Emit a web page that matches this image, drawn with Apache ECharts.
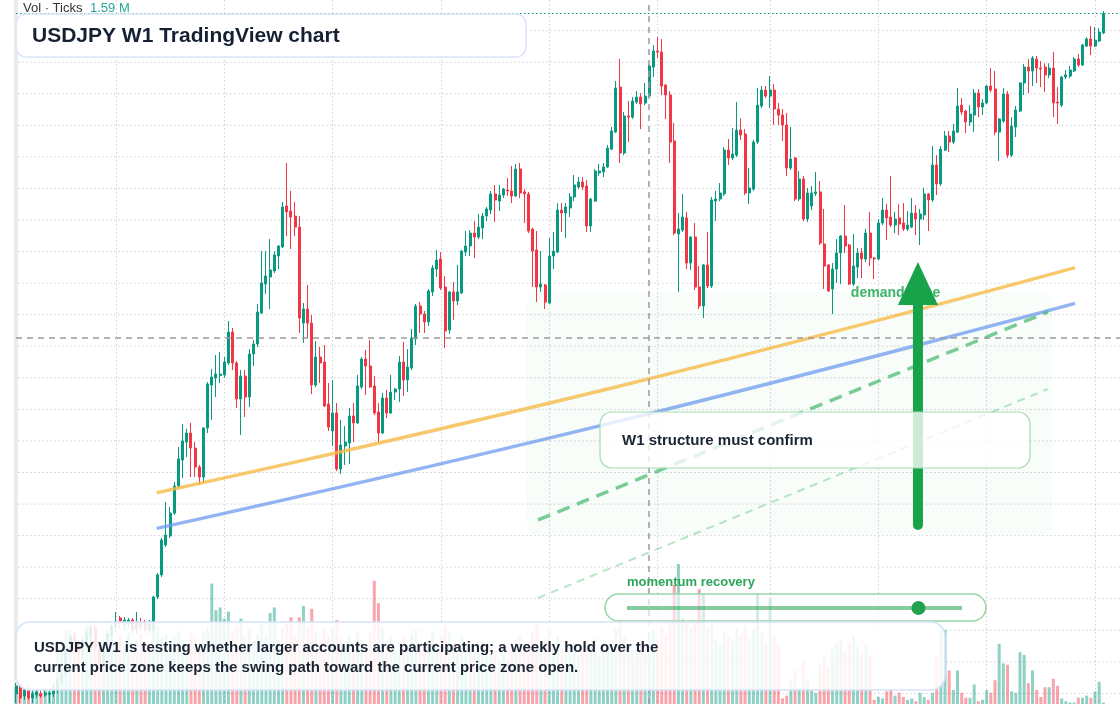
<!DOCTYPE html>
<html>
<head>
<meta charset="utf-8">
<title>USDJPY W1</title>
<script src="https://cdn.jsdelivr.net/npm/echarts@6/dist/echarts.min.js"></script>
<style>
  html, body { margin: 0; padding: 0; background: #fff; }
  #chart { width: 1120px; height: 704px; }
</style>
</head>
<body>
<div id="chart"></div>
<script>
// weekly bars: [open, close, low, high]
var candles = [
  [115.97,116.47,115.40,116.66],[116.35,115.71,115.40,116.54],[115.84,116.22,115.59,116.35],[116.16,115.71,115.59,116.28],
  [115.71,115.97,115.40,116.22],[115.90,116.09,115.71,116.22],[115.97,115.84,115.71,116.22],[115.90,116.03,115.78,116.22],
  [115.93,116.03,115.40,116.22],[115.97,116.22,115.78,116.66],[116.22,116.85,116.03,117.04],[116.79,117.23,116.60,117.49],
  [117.30,118.75,117.11,119.07],[118.88,119.64,118.63,119.96],[119.64,119.07,118.75,119.89],[119.13,118.63,118.37,119.39],
  [118.63,119.39,118.25,119.64],[119.20,119.83,118.94,120.08],[119.58,120.21,119.32,120.53],[120.21,118.88,118.63,120.40],
  [118.88,117.87,117.61,119.07],[117.99,119.26,117.74,119.45],[119.26,119.77,119.01,120.02],[119.64,120.27,119.39,120.53],
  [120.21,120.53,119.89,121.16],[120.78,120.53,120.15,120.91],[120.34,120.65,120.02,120.84],[120.40,120.65,120.15,120.78],
  [120.65,120.02,119.77,120.78],[120.02,120.53,119.77,121.16],[120.53,120.21,119.96,120.78],[120.46,120.02,119.83,120.65],
  [120.02,120.40,119.83,120.65],[120.02,122.11,119.96,122.17],[122.11,123.51,121.98,123.63],[123.51,125.72,123.38,125.85],
  [125.41,126.04,125.28,128.13],[125.98,127.43,125.85,127.81],[127.43,129.14,127.31,129.40],[129.14,130.86,129.02,131.62],
  [130.79,132.00,129.65,133.07],[131.93,132.50,130.98,132.76],[132.50,131.55,129.71,133.14],[131.55,130.35,129.71,131.93],
  [130.35,129.71,129.21,130.48],[129.71,132.82,129.33,132.88],[132.82,135.61,132.50,135.73],[135.54,136.05,133.33,136.56],
  [135.99,136.24,134.78,137.44],[136.14,136.24,135.67,137.63],[136.18,137.00,135.99,137.32],[136.94,138.90,136.81,139.60],
  [138.90,136.94,136.49,139.16],[136.94,134.66,134.09,137.06],[134.66,136.11,132.38,136.49],[136.11,134.78,133.52,136.49],
  [134.78,137.51,134.15,137.82],[137.51,138.14,136.75,138.40],[138.14,140.17,137.95,140.68],[140.11,142.01,140.04,144.03],
  [141.94,142.45,141.31,144.03],[142.39,142.83,140.36,144.79],[142.77,143.78,142.64,144.03],[143.72,144.35,142.89,144.41],
  [144.29,146.82,144.22,147.14],[146.89,146.51,144.98,149.61],[146.57,146.19,144.16,147.84],[146.25,145.55,144.98,147.14],
  [145.55,139.79,138.84,146.25],[139.47,140.36,138.21,140.74],[140.36,139.47,138.52,141.88],[139.47,135.54,134.97,139.98],
  [135.54,137.32,135.42,138.33],[137.32,136.94,135.67,137.95],[137.00,134.21,134.15,138.08],[134.34,132.88,132.63,135.67],
  [132.63,133.77,131.68,135.86],[133.77,130.22,130.09,134.40],[130.22,131.74,129.90,133.33],[131.68,131.93,130.48,132.95],
  [131.87,133.58,130.54,134.09],[133.58,133.14,131.93,134.40],[133.14,135.48,133.07,136.18],[135.42,137.19,135.29,137.32],
  [137.19,136.75,134.91,137.76],[136.75,135.42,135.35,138.40],[135.48,133.77,133.64,136.11],[133.83,132.50,131.87,134.40],
  [132.50,134.72,132.44,135.04],[134.72,133.77,133.45,135.23],[133.77,135.10,133.71,136.18],[135.10,135.29,134.59,135.35],
  [135.29,137.00,134.47,137.38],[137.00,135.86,134.85,138.27],[135.86,136.68,135.10,137.82],[136.62,138.52,136.49,139.09],
  [138.46,140.55,138.08,140.68],[140.55,140.04,138.84,140.80],[140.04,139.54,138.84,140.23],[139.54,141.50,139.28,141.63],
  [141.44,142.96,141.18,143.15],[142.89,143.46,142.39,144.10],[143.53,141.69,141.56,143.97],[141.75,138.97,137.89,142.45],
  [139.03,141.44,138.78,141.50],[141.44,140.87,139.66,142.07],[140.87,141.44,140.61,143.15],[141.37,144.03,141.31,144.10],
  [143.97,144.35,143.72,145.30],[144.35,145.17,143.72,145.36],[145.17,144.92,143.59,145.93],[144.92,145.55,144.79,146.38],
  [145.49,146.25,144.79,146.44],[146.25,146.70,145.93,146.82],[146.63,147.65,146.38,147.84],[147.65,147.27,145.87,148.22],
  [147.20,147.58,146.57,148.22],[147.58,147.96,147.39,148.03],[147.90,147.84,147.52,148.66],[147.84,147.52,147.07,149.42],
  [147.52,149.23,147.46,149.55],[149.23,147.71,147.39,149.61],[147.78,147.65,145.81,147.96],[147.65,145.30,145.17,147.78],
  [145.43,144.03,141.75,145.49],[144.10,141.75,140.80,145.30],[141.75,141.94,141.44,144.03],[141.88,140.80,140.36,141.94],
  [140.74,143.72,140.68,144.86],[143.72,144.03,142.89,145.24],[143.97,146.63,143.91,147.07],[146.63,146.44,145.24,147.07],
  [146.44,146.82,144.86,147.07],[146.76,147.46,146.19,147.71],[147.46,148.22,147.20,148.85],[148.09,148.41,147.96,148.72],
  [148.41,148.09,147.90,148.72],[148.15,145.62,145.24,148.53],[145.62,147.33,145.24,147.39],[147.20,149.10,147.14,149.23],
  [148.98,149.10,148.79,149.55],[149.04,149.36,148.72,149.61],[149.36,150.56,149.29,150.75],[150.49,151.64,150.43,151.89],
  [151.57,154.36,151.51,154.81],[154.42,150.24,149.61,156.20],[150.24,152.59,150.11,152.84],[152.59,152.52,150.94,153.54],
  [152.52,153.54,152.40,153.79],[153.47,153.79,153.35,154.17],[153.79,153.35,151.76,154.04],[153.41,153.85,153.28,154.68],
  [153.85,155.76,153.79,155.88],[155.69,156.71,155.06,157.09],[156.71,156.64,156.26,157.59],[156.64,154.49,153.92,157.47],
  [154.55,153.92,152.40,154.61],[153.92,150.94,149.61,154.17],[151.01,145.17,145.04,152.15],[145.11,145.43,141.44,146.44],
  [145.36,146.19,145.24,147.65],[146.13,143.27,142.89,146.51],[143.27,144.92,142.83,144.98],[144.92,141.75,141.56,145.81],
  [141.75,140.55,140.36,143.08],[140.55,143.15,139.79,143.21],[143.15,141.82,141.69,145.24],[141.82,147.27,141.69,147.46],
  [147.20,147.33,145.93,147.84],[147.33,147.71,147.20,148.34],[147.65,150.43,147.52,150.62],[150.43,149.93,149.48,151.13],
  [149.93,150.18,149.80,151.83],[150.11,151.70,149.99,153.47],[151.70,151.38,151.07,152.44],[151.45,147.71,147.58,151.76],
  [147.71,148.03,147.01,149.29],[147.96,150.94,147.84,151.07],[150.94,153.28,150.81,154.36],[153.22,154.23,153.09,154.49],
  [154.23,153.85,153.73,154.49],[153.85,154.23,153.09,155.12],[154.23,153.03,152.02,154.61],[153.03,152.65,152.02,153.41],
  [152.65,152.02,151.01,153.03],[152.02,149.29,148.79,152.78],[149.29,149.86,149.17,151.89],[149.93,147.33,147.20,149.99],
  [147.33,148.60,147.20,149.10],[148.60,146.06,145.93,148.79],[146.06,147.71,145.87,148.03],[146.89,147.71,146.63,148.15],
  [147.68,147.78,147.52,149.04],[147.78,144.54,144.41,148.47],[144.48,143.08,141.63,146.70],[143.15,141.50,141.44,143.21],
  [141.63,142.89,140.04,143.27],[142.89,143.91,142.01,144.79],[143.91,144.98,141.94,145.04],[144.98,144.35,143.91,146.95],
  [144.41,141.94,141.88,144.48],[141.94,143.08,141.82,145.11],[143.02,143.91,142.32,144.22],[143.91,143.53,142.32,144.22],
  [143.53,145.17,143.34,145.43],[145.17,143.59,143.08,146.51],[143.59,143.53,142.26,143.66],[143.53,145.81,143.46,146.06],
  [145.81,146.63,145.68,147.39],[146.63,146.13,144.73,147.01],[146.19,145.68,145.55,148.79],[145.68,146.06,145.17,146.51],
  [146.13,145.74,145.04,147.01],[145.81,145.43,145.30,147.07],[145.43,145.68,145.30,146.57],[145.55,146.44,145.49,147.39],
  [146.44,146.06,145.04,146.95],[146.06,146.38,144.41,146.70],[146.32,147.65,146.00,148.03],[147.65,147.27,145.30,147.71],
  [147.27,149.48,147.14,150.69],[149.48,148.28,147.58,150.11],[148.28,150.49,148.15,150.69],[150.43,151.32,150.37,151.64],
  [151.32,150.94,150.31,151.64],[150.94,151.64,150.81,152.08],[151.57,153.22,151.51,154.36],[153.28,152.84,152.65,153.73],
  [152.90,152.21,151.51,152.97],[152.21,152.71,151.95,153.28],[152.65,154.04,151.57,154.30],[154.04,153.16,152.52,154.30],
  [153.16,153.41,152.65,153.66],[153.41,154.49,153.35,154.55],[154.49,154.23,154.11,155.63],[154.30,151.57,151.38,155.44],
  [151.57,152.40,149.74,152.46],[152.27,153.98,152.15,154.36],[153.98,150.11,149.93,154.17],[150.11,151.95,149.99,152.52],
  [151.89,152.97,151.26,153.22],[152.90,154.68,152.84,154.74],[154.68,155.69,153.92,155.88],[155.69,155.44,154.04,156.20],
  [155.44,156.26,154.49,156.39],[156.20,155.63,154.68,156.39],[155.63,155.57,154.42,156.07],[155.69,155.19,154.11,155.93],
  [155.19,155.63,154.99,155.93],[155.63,153.41,152.52,156.64],[153.47,153.41,152.08,154.42],[153.28,155.06,153.16,155.12],
  [155.06,155.19,154.93,155.50],[155.12,155.50,154.99,155.76],[155.44,156.20,155.37,156.33],[156.20,155.82,155.69,156.52],
  [155.82,157.09,155.76,157.15],[157.02,157.47,156.96,157.59],[157.47,157.02,156.45,158.29],[157.02,157.40,156.96,158.23],
  [157.34,157.91,157.28,158.16],[157.85,159.09,157.78,159.24]
];

// tick volume, millions
var volumes = [
  1.2,1.5,1.1,1.3,0.9,1.0,0.8,1.1,0.9,1.4,
  4.3,4.6,5.2,4.8,4.1,4.4,3.9,5.6,5.0,4.2,3.8,4.5,4.0,4.7,
  4.5,4.9,4.2,5.1,3.8,4.6,5.0,4.4,4.1,5.3,5.6,4.8,5.0,4.4,4.9,5.2,4.6,4.3,5.1,4.7,4.0,5.2,5.5,
  8.6,6.7,6.9,6.1,6.6,5.2,5.6,6.1,4.8,5.3,4.5,5.0,5.7,
  4.9,6.5,6.9,4.6,5.4,5.8,6.2,4.9,6.2,7.0,
  5.4,6.8,5.1,4.4,5.3,4.8,5.5,6.0,4.7,4.1,
  4.9,4.3,5.2,4.6,4.0,5.1,8.8,7.2,5.4,4.5,
  4.9,3.8,4.4,4.8,4.2,5.0,5.3,4.1,3.9,4.6,
  5.2,4.4,4.8,5.6,5.1,4.3,4.0,4.9,3.7,4.2,
  3.6,4.0,4.5,3.5,4.1,3.8,3.3,3.6,3.2,4.0,
  4.6,4.9,3.7,4.4,5.2,5.8,4.3,4.7,5.3,4.0,
  4.8,3.9,3.6,4.1,4.4,3.5,3.8,4.6,4.2,4.7,
  3.4,3.7,4.2,4.6,5.4,6.0,4.8,4.1,4.3,3.9,
  4.5,4.2,4.9,5.3,4.6,5.6,5.0,5.9,8.5,10.0,
  6.1,5.8,5.4,5.9,8.2,7.9,5.5,5.7,4.6,4.3,
  5.2,4.8,4.5,5.4,4.9,5.6,4.7,5.3,7.9,5.1,
  4.4,7.6,4.9,4.2,0.4,0.6,1.7,2.4,1.2,3.0,
  1.8,1.0,0.8,2.8,3.3,2.6,3.9,4.3,4.6,3.7,
  4.4,4.8,4.1,3.6,4.2,3.4,0.3,0.5,0.4,0.9,
  1.0,0.6,0.8,0.5,0.3,0.4,0.2,0.8,0.5,0.3,
  0.8,3.4,5.3,5.3,2.4,1.0,2.4,0.8,0.45,0.45,
  1.4,0.2,0.3,1.0,0.8,1.7,4.3,2.9,2.8,0.9,
  0.8,3.7,3.5,1.5,2.4,1.0,0.5,1.2,1.2,1.8,
  1.3,0.4,0.2,0.1,0.1,0.45,0.45,0.6,0.45,0.9,1.59,0.1
];

// price grid levels (2 yen) and half-year boundaries (week index)
var priceLevels = [116, 118, 120, 122, 124, 126, 128, 130, 132, 134, 136, 138, 140, 142, 144, 146, 148, 150, 152, 154, 156, 158];
var halfYearTicks = [24, 50, 76, 102, 128, 154, 181, 207, 233, 259];
var rightPadWeeks = 4;

// drawings, [week, price]
var orangeTrend = [[33.77, 128.72], [144.0, 135.42], [254.2, 142.98]];
var blueTrend = [[33.77, 126.46], [144.0, 133.21], [254.2, 140.72]];
var pathHigh = [[125.3, 126.99], [247.7, 140.17]];
var pathLow = [[125.3, 122.05], [247.7, 135.29]];
var demandZone = [[122.66, 141.44, 248.7, 126.04]];
var demandLabel = [[200.4, 141.38]];
var arrowUp = [[216.5, 126.67, 143.34]];   // week, tail price, tip price
var crossWeek = 152;
var crossPrice = 138.52;
var momentumScore = 0.87;

var weeks = [];
var start = Date.UTC(2020, 11, 28);
for (var i = 0; i < candles.length + rightPadWeeks; i++) {
    weeks.push(new Date(start + i * 7 * 86400000).toISOString().slice(0, 10));
}

var upColor = '#089981';
var downColor = '#f23645';
var gridDots = { color: '#cdd0d4', width: 1, type: [1.5, 2.5] };

var chart = echarts.init(document.getElementById('chart'));

var option = {
    animation: false,
    backgroundColor: '#ffffff',
    grid: [
        { left: 16, right: 0, top: 0, bottom: 0 },
        { left: 16, right: 0, top: 494, bottom: 0 }
    ],
    xAxis: [
        {
            type: 'category', gridIndex: 0, data: weeks, boundaryGap: false,
            axisLine: { show: false }, axisTick: { show: false }, axisLabel: { show: false },
            splitLine: {
                show: true,
                interval: function (idx) { return halfYearTicks.indexOf(idx) >= 0; },
                lineStyle: gridDots
            }
        },
        { type: 'value', gridIndex: 0, min: 0, max: weeks.length - 1, show: false },
        { type: 'category', gridIndex: 1, data: weeks, boundaryGap: false, show: false }
    ],
    yAxis: [
        {
            type: 'value', gridIndex: 0, min: 115.33, max: 159.94, offset: 4,
            axisLine: { show: true, lineStyle: { color: '#ebebeb', width: 4 } },
            axisTick: { show: false }, axisLabel: { show: false },
            splitLine: { show: false }
        },
        { type: 'value', gridIndex: 1, min: 0, max: 15, show: false }
    ],
    series: [
        {
            name: 'grid', type: 'custom', xAxisIndex: 1, yAxisIndex: 0, z: 0, silent: true,
            data: priceLevels.map(function (v) { return [0, v]; }),
            renderItem: function (params, api) {
                var y = api.coord([0, api.value(1)])[1];
                var cs = params.coordSys;
                return {
                    type: 'line',
                    shape: { x1: cs.x - 2, y1: y, x2: cs.x + cs.width, y2: y },
                    style: { stroke: gridDots.color, lineWidth: gridDots.width, lineDash: gridDots.type }
                };
            }
        },
        {
            name: 'Volume', type: 'bar', xAxisIndex: 2, yAxisIndex: 1,
            data: volumes, barWidth: 3, clip: false,
            itemStyle: {
                color: function (p) {
                    var c = candles[p.dataIndex];
                    return c[1] >= c[0] ? 'rgba(8,153,129,0.45)' : 'rgba(242,54,69,0.45)';
                }
            }
        },
        {
            name: 'demand zone', type: 'custom', xAxisIndex: 1, yAxisIndex: 0, z: 1,
            data: demandZone, encode: { x: [0, 2], y: [1, 3] },
            renderItem: function (params, api) {
                var a = api.coord([api.value(0), api.value(1)]);
                var b = api.coord([api.value(2), api.value(3)]);
                return {
                    type: 'rect',
                    shape: { x: a[0], y: a[1], width: b[0] - a[0], height: b[1] - a[1], r: 10 },
                    style: { fill: 'rgba(34,197,94,0.03)' }
                };
            }
        },
        {
            name: 'USDJPY', type: 'candlestick', xAxisIndex: 0, yAxisIndex: 0,
            data: candles, barWidth: 2.5, clip: false,
            itemStyle: {
                color: upColor, color0: downColor,
                borderColor: upColor, borderColor0: downColor, borderWidth: 1
            },
            markLine: {
                silent: true, symbol: ['none', 'none'], label: { show: false },
                data: [
                    { xAxis: weeks[crossWeek], lineStyle: { color: '#9b9b9b', width: 1.5, type: [6, 5] } },
                    { yAxis: crossPrice, lineStyle: { color: '#9b9b9b', width: 1.5, type: [6, 5] } },
                    { yAxis: candles[candles.length - 1][1], lineStyle: { color: upColor, width: 1.2, type: [1.5, 2.5] } }
                ]
            }
        },
        {
            type: 'line', xAxisIndex: 1, yAxisIndex: 0, data: pathLow, showSymbol: false, z: 3,
            lineStyle: { color: 'rgba(52,178,96,0.35)', width: 2, type: [8, 6] }
        },
        {
            type: 'line', xAxisIndex: 1, yAxisIndex: 0, data: orangeTrend, showSymbol: false, smooth: 0.5, z: 3,
            lineStyle: { color: 'rgba(246,186,72,0.8)', width: 3.5 }
        },
        {
            type: 'line', xAxisIndex: 1, yAxisIndex: 0, data: blueTrend, showSymbol: false, smooth: 0.5, z: 3,
            lineStyle: { color: 'rgba(110,155,238,0.75)', width: 3.5 }
        },
        {
            type: 'line', xAxisIndex: 1, yAxisIndex: 0, data: pathHigh, showSymbol: false, z: 3,
            lineStyle: { color: 'rgba(52,178,96,0.65)', width: 3.5, type: [13, 8] }
        },
        {
            type: 'custom', xAxisIndex: 1, yAxisIndex: 0, z: 4, data: demandLabel,
            renderItem: function (params, api) {
                var p = api.coord([api.value(0), api.value(1)]);
                return {
                    type: 'text', x: p[0], y: p[1],
                    style: {
                        text: 'demand zone', fill: '#3db36a', font: 'bold 14px Arial',
                        textAlign: 'left', textVerticalAlign: 'middle'
                    }
                };
            }
        },
        {
            type: 'custom', xAxisIndex: 1, yAxisIndex: 0, z: 5, data: arrowUp,
            renderItem: function (params, api) {
                var tail = api.coord([api.value(0), api.value(1)]);
                var tip = api.coord([api.value(0), api.value(2)]);
                var headLen = 43, headHalf = 20;
                return {
                    type: 'group',
                    children: [
                        {
                            type: 'line',
                            shape: { x1: tail[0], y1: tail[1], x2: tip[0], y2: tip[1] + headLen - 2 },
                            style: { stroke: '#18a34a', lineWidth: 10, lineCap: 'round' }
                        },
                        {
                            type: 'polygon',
                            shape: { points: [[tip[0], tip[1]], [tip[0] - headHalf, tip[1] + headLen], [tip[0] + headHalf, tip[1] + headLen]] },
                            style: { fill: '#18a34a' }
                        }
                    ]
                };
            }
        }
    ],
    graphic: [
        { type: 'text', x: 23, y: 8, z: 101, style: { text: 'Vol · Ticks', font: '13px Arial', fill: '#333333', textVerticalAlign: 'middle' } },
        { type: 'text', x: 90, y: 8, z: 101, style: { text: '1.59 M', font: '13px Arial', fill: '#26a69a', textVerticalAlign: 'middle' } },

        { type: 'rect', z: 100, shape: { x: 16, y: 14, width: 510, height: 43, r: 10 },
          style: { fill: 'rgba(255,255,255,0.92)', stroke: '#d9e5f7', lineWidth: 1.5 } },
        { type: 'text', x: 32, y: 36, z: 101,
          style: { text: 'USDJPY W1 TradingView chart', font: 'bold 21px Arial', fill: '#152033', textVerticalAlign: 'middle' } },

        { type: 'rect', z: 100, shape: { x: 600, y: 412, width: 430, height: 56, r: 12 },
          style: { fill: 'rgba(255,255,255,0.78)', stroke: '#a3dbb3', lineWidth: 1.2 } },
        { type: 'text', x: 622, y: 441, z: 101,
          style: { text: 'W1 structure must confirm', font: 'bold 15px Arial', fill: '#1b2433', textVerticalAlign: 'middle' } },

        { type: 'text', x: 627, y: 582, z: 101,
          style: { text: 'momentum recovery', font: 'bold 13px Arial', fill: '#2aa65a', textVerticalAlign: 'middle' } },
        { type: 'rect', z: 100, shape: { x: 605, y: 594, width: 381, height: 27, r: 13.5 },
          style: { fill: 'rgba(255,255,255,0.6)', stroke: '#98d5a9', lineWidth: 1.5 } },
        { type: 'line', z: 101, shape: { x1: 627, y1: 608, x2: 962, y2: 608 },
          style: { stroke: 'rgba(34,160,80,0.55)', lineWidth: 4 } },
        { type: 'circle', z: 102, shape: { cx: 627 + momentumScore * 335, cy: 608, r: 7 },
          style: { fill: '#22a24f' } },

        { type: 'rect', z: 100, shape: { x: 16, y: 622, width: 929, height: 68, r: 14 },
          style: { fill: 'rgba(255,255,255,0.87)', stroke: '#d5e2f8', lineWidth: 1.5 } },
        { type: 'text', x: 34, y: 638, z: 101,
          style: {
              text: 'USDJPY W1 is testing whether larger accounts are participating; a weekly hold over the\ncurrent price zone keeps the swing path toward the current price zone open.',
              font: 'bold 15px Arial', fill: '#1b2433', lineHeight: 20, textVerticalAlign: 'top'
          } }
    ]
};

chart.setOption(option);
</script>
</body>
</html>
